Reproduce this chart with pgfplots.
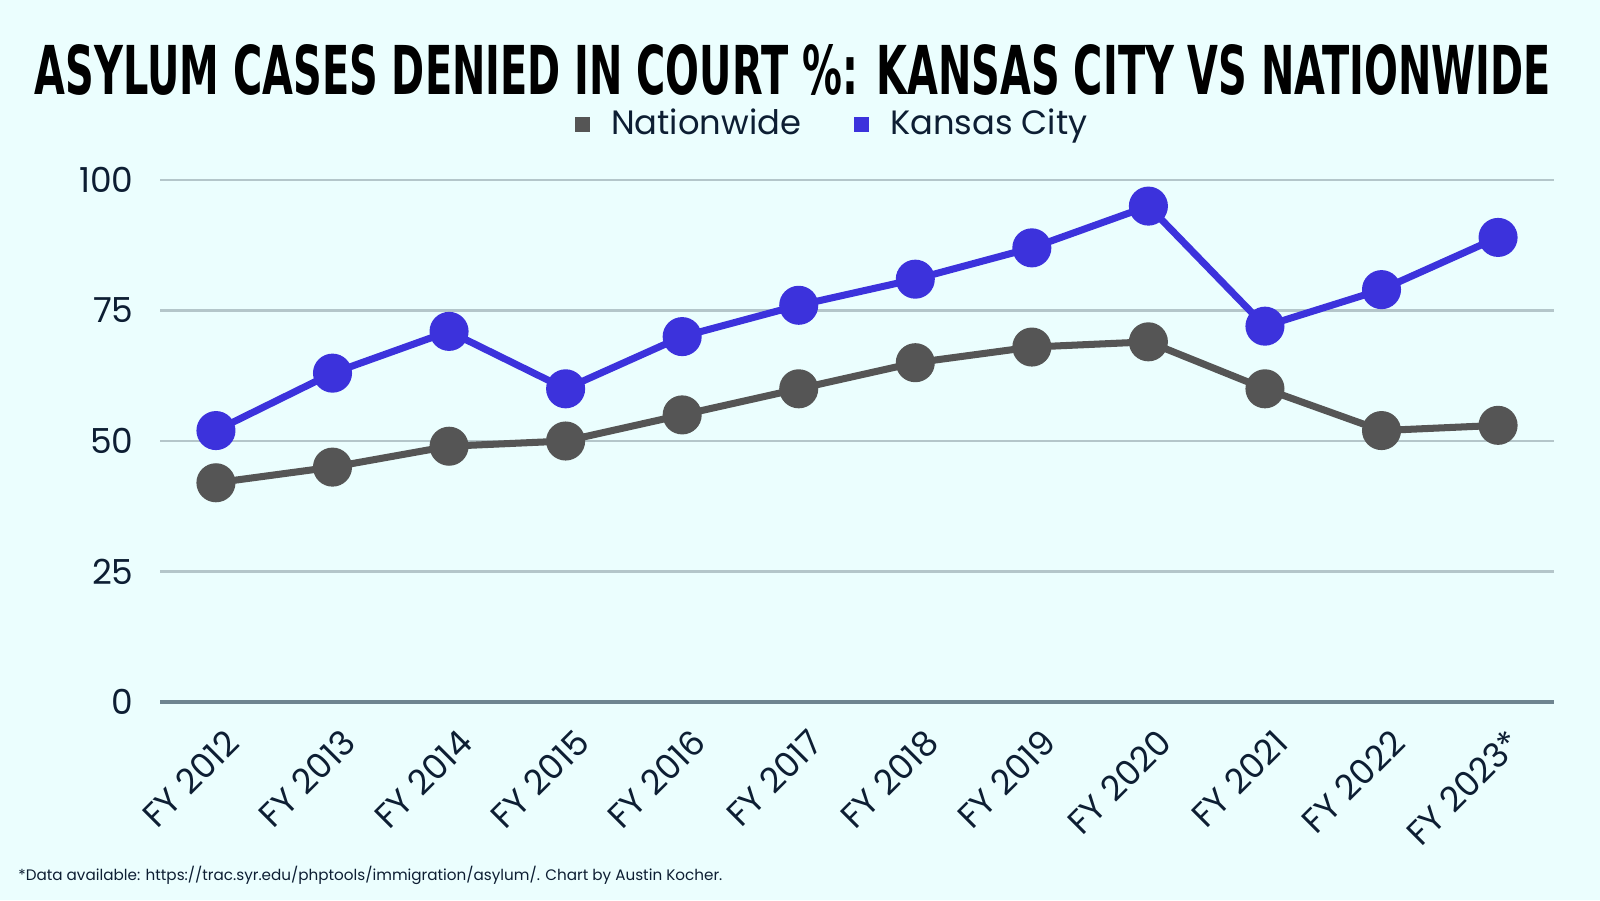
\documentclass[border=0pt]{standalone}
\usepackage{pgfplots}
\pgfplotsset{compat=1.18}
\usepackage{fontspec}
\setmainfont{Poppins}
\newfontfamily\titlefont{DejaVu Sans}
\definecolor{bg}{HTML}{EBFEFE}
\definecolor{kc}{HTML}{3C32DC}
\definecolor{nw}{HTML}{555555}
\definecolor{txt}{HTML}{0D1E33}
\definecolor{gridc}{HTML}{B4C6CA}
\definecolor{zeroc}{HTML}{6E8590}
\begin{document}
\begin{tikzpicture}
\fill[bg] (0,0) rectangle (16cm,9cm);
\node[anchor=center, text=black] at (7.93cm,8.30cm) {\resizebox{15.16cm}{0.50cm}{\titlefont\bfseries ASYLUM CASES DENIED IN COURT \%: KANSAS CITY VS NATIONWIDE}};
\begin{axis}[
  at={(1.60cm,1.98cm)}, anchor=south west,
  scale only axis, width=13.94cm, height=5.22cm,
  xmin=-0.48, xmax=11.48, ymin=0, ymax=100,
  axis line style={draw=none},
  major tick length=0pt,
  xtick={0,...,11},
  xticklabels={FY 2012,FY 2013,FY 2014,FY 2015,FY 2016,FY 2017,FY 2018,FY 2019,FY 2020,FY 2021,FY 2022,FY 2023*},
  xticklabel style={rotate=45, anchor=north east, font=\fontsize{9.8}{11}\selectfont, text=txt, xshift=0mm, yshift=-1.1mm},
  ytick={25,50,75,100},
  extra y ticks={0},
  extra y tick style={grid style={draw=zeroc, line width=0.9pt}},
  yticklabel style={font=\fontsize{9.8}{11}\selectfont, text=txt, xshift=-1.4mm},
  /pgf/number format/assume math mode=true,
  ymajorgrids, grid style={draw=gridc, line width=0.6pt},
  legend columns=2,
  legend style={at={(0.484,1.107)}, anchor=center, draw=none, fill=none,
    font=\fontsize{9.6}{11}\selectfont, text=txt,
    /tikz/every odd column/.append style={column sep=1.4mm},
    /tikz/every even column/.append style={column sep=4.6mm}},
  legend image code/.code={\fill[#1, draw=none] (0mm,-0.75mm) rectangle (1.5mm,0.75mm);},
]
\addplot[nw, line width=2pt, mark=*, mark size=1.6mm, mark options={fill=nw, draw=nw}] coordinates {
(0,42) (1,45) (2,49) (3,50) (4,55) (5,60) (6,65) (7,68) (8,69) (9,60) (10,52) (11,53)};
\addlegendentry{Nationwide}
\addplot[kc, line width=2pt, mark=*, mark size=1.6mm, mark options={fill=kc, draw=kc}] coordinates {
(0,52) (1,63) (2,71) (3,60) (4,70) (5,76) (6,81) (7,87) (8,95) (9,72) (10,79) (11,89)};
\addlegendentry{Kansas City}
\end{axis}
\node[anchor=west, text=txt] at (0.06cm,0.25cm) {\resizebox{7.04cm}{!}{*Data available: https://trac.syr.edu/phptools/immigration/asylum/. Chart by Austin Kocher.}};
\end{tikzpicture}
\end{document}
